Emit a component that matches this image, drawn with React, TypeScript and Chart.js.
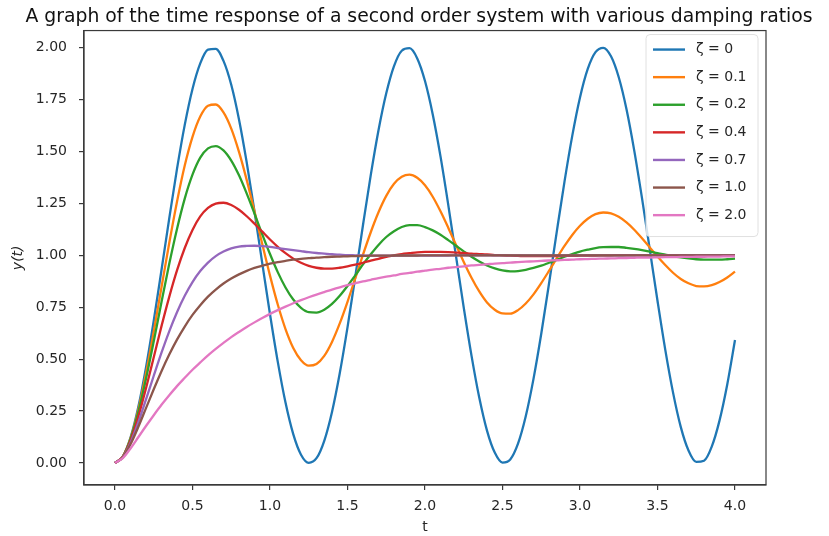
import React, { useEffect, useRef } from "react";
import { Chart, registerables } from "chart.js";

Chart.register(...registerables);

const tValues = [
  0, 0.05, 0.1, 0.15, 0.2, 0.25, 0.3, 0.35, 0.4, 0.45,
  0.5, 0.55, 0.6, 0.65, 0.7, 0.75, 0.8, 0.85, 0.9, 0.95,
  1.0, 1.05, 1.1, 1.15, 1.2, 1.25, 1.3, 1.35, 1.4, 1.45,
  1.5, 1.55, 1.6, 1.65, 1.7, 1.75, 1.8, 1.85, 1.9, 1.95,
  2.0, 2.05, 2.1, 2.15, 2.2, 2.25, 2.3, 2.35, 2.4, 2.45,
  2.5, 2.55, 2.6, 2.65, 2.7, 2.75, 2.8, 2.85, 2.9, 2.95,
  3.0, 3.05, 3.1, 3.15, 3.2, 3.25, 3.3, 3.35, 3.4, 3.45,
  3.5, 3.55, 3.6, 3.65, 3.7, 3.75, 3.8, 3.85, 3.9, 3.95,
  4.0,
];

const yZeta0 = [
  0, 0.031, 0.122, 0.268, 0.460, 0.685, 0.929, 1.178, 1.416, 1.628,
  1.801, 1.924, 1.990, 1.994, 1.936, 1.821, 1.654, 1.446, 1.211, 0.962,
  0.716, 0.488, 0.291, 0.139, 0.040, 0.001, 0.023, 0.107, 0.246, 0.432,
  0.653, 0.896, 1.146, 1.386, 1.602, 1.780, 1.911, 1.985, 1.997, 1.948,
  1.839, 1.678, 1.476, 1.243, 0.996, 0.748, 0.517, 0.315, 0.156, 0.050,
  0.002, 0.017, 0.093, 0.225, 0.405, 0.622, 0.863, 1.113, 1.355, 1.575,
  1.760, 1.897, 1.978, 1.999, 1.958, 1.857, 1.703, 1.504, 1.275, 1.029,
  0.781, 0.546, 0.340, 0.174, 0.060, 0.005, 0.011, 0.079, 0.204, 0.378,
  0.592,
];

const yZeta01 = [
  0, 0.031, 0.118, 0.255, 0.431, 0.633, 0.846, 1.059, 1.258, 1.432,
  1.570, 1.668, 1.720, 1.726, 1.688, 1.610, 1.498, 1.362, 1.211, 1.054,
  0.902, 0.763, 0.645, 0.554, 0.495, 0.469, 0.477, 0.516, 0.583, 0.672,
  0.776, 0.889, 1.003, 1.111, 1.207, 1.286, 1.344, 1.378, 1.388, 1.373,
  1.337, 1.282, 1.212, 1.133, 1.050, 0.968, 0.892, 0.826, 0.773, 0.738,
  0.720, 0.719, 0.736, 0.768, 0.812, 0.866, 0.925, 0.986, 1.045, 1.098,
  1.142, 1.176, 1.198, 1.206, 1.202, 1.185, 1.158, 1.123, 1.082, 1.038,
  0.994, 0.953, 0.916, 0.886, 0.865, 0.852, 0.850, 0.856, 0.871, 0.893,
  0.921,
];

const yZeta02 = [
  0, 0.030, 0.115, 0.244, 0.405, 0.586, 0.775, 0.959, 1.127, 1.273,
  1.388, 1.470, 1.515, 1.526, 1.505, 1.456, 1.385, 1.297, 1.201, 1.101,
  1.006, 0.919, 0.845, 0.787, 0.747, 0.726, 0.724, 0.738, 0.766, 0.805,
  0.852, 0.903, 0.956, 1.005, 1.050, 1.088, 1.116, 1.136, 1.145, 1.145,
  1.136, 1.120, 1.099, 1.073, 1.046, 1.019, 0.993, 0.970, 0.951, 0.937,
  0.927, 0.923, 0.924, 0.930, 0.939, 0.950, 0.964, 0.978, 0.993, 1.006,
  1.018, 1.027, 1.035, 1.039, 1.040, 1.040, 1.036, 1.031, 1.025, 1.018,
  1.010, 1.003, 0.996, 0.990, 0.985, 0.981, 0.979, 0.979, 0.979, 0.981,
  0.984,
];

const yZeta04 = [
  0, 0.029, 0.108, 0.222, 0.360, 0.509, 0.659, 0.800, 0.927, 1.035,
  1.122, 1.187, 1.228, 1.249, 1.253, 1.242, 1.219, 1.188, 1.152, 1.114,
  1.076, 1.041, 1.010, 0.984, 0.964, 0.949, 0.940, 0.936, 0.936, 0.940,
  0.947, 0.955, 0.964, 0.974, 0.983, 0.992, 0.999, 1.006, 1.010, 1.014,
  1.016, 1.016, 1.016, 1.015, 1.013, 1.011, 1.008, 1.006, 1.004, 1.001,
  1.000, 0.998, 0.997, 0.996, 0.996, 0.996, 0.996, 0.996, 0.997, 0.997,
  0.998, 0.999, 0.999, 1.000, 1.000, 1.001, 1.001, 1.001, 1.001, 1.001,
  1.001, 1.001, 1.001, 1.001, 1.000, 1.000, 1.000, 1.000, 1.000, 1.000,
  1.000,
];

const yZeta07 = [
  0, 0.028, 0.098, 0.195, 0.306, 0.420, 0.531, 0.634, 0.726, 0.805,
  0.871, 0.924, 0.965, 0.996, 1.018, 1.033, 1.042, 1.045, 1.046, 1.044,
  1.040, 1.035, 1.030, 1.025, 1.020, 1.015, 1.011, 1.008, 1.005, 1.003,
  1.001, 1.000, 0.999, 0.998, 0.998, 0.998, 0.998, 0.998, 0.998, 0.998,
  0.999, 0.999, 0.999, 0.999, 1.000, 1.000, 1.000, 1.000, 1.000, 1.000,
  1.000, 1.000, 1.000, 1.000, 1.000, 1.000, 1.000, 1.000, 1.000, 1.000,
  1.000, 1.000, 1.000, 1.000, 1.000, 1.000, 1.000, 1.000, 1.000, 1.000,
  1.000, 1.000, 1.000, 1.000, 1.000, 1.000, 1.000, 1.000, 1.000, 1.000,
  1.000,
];

const yZeta10 = [
  0, 0.026, 0.090, 0.173, 0.264, 0.355, 0.442, 0.522, 0.594, 0.657,
  0.713, 0.760, 0.801, 0.835, 0.864, 0.888, 0.908, 0.925, 0.939, 0.950,
  0.960, 0.967, 0.973, 0.979, 0.983, 0.986, 0.989, 0.991, 0.993, 0.994,
  0.995, 0.996, 0.997, 0.998, 0.998, 0.998, 0.999, 0.999, 0.999, 0.999,
  1.000, 1.000, 1.000, 1.000, 1.000, 1.000, 1.000, 1.000, 1.000, 1.000,
  1.000, 1.000, 1.000, 1.000, 1.000, 1.000, 1.000, 1.000, 1.000, 1.000,
  1.000, 1.000, 1.000, 1.000, 1.000, 1.000, 1.000, 1.000, 1.000, 1.000,
  1.000, 1.000, 1.000, 1.000, 1.000, 1.000, 1.000, 1.000, 1.000, 1.000,
  1.000,
];

const yZeta20 = [
  0, 0.023, 0.070, 0.124, 0.178, 0.230, 0.280, 0.326, 0.370, 0.410,
  0.449, 0.484, 0.518, 0.549, 0.578, 0.606, 0.631, 0.655, 0.677, 0.698,
  0.718, 0.736, 0.753, 0.769, 0.784, 0.798, 0.811, 0.823, 0.835, 0.846,
  0.856, 0.865, 0.874, 0.882, 0.890, 0.897, 0.903, 0.910, 0.915, 0.921,
  0.926, 0.931, 0.935, 0.940, 0.943, 0.947, 0.951, 0.954, 0.957, 0.960,
  0.962, 0.965, 0.967, 0.969, 0.971, 0.973, 0.975, 0.976, 0.978, 0.979,
  0.981, 0.982, 0.983, 0.984, 0.985, 0.986, 0.987, 0.988, 0.989, 0.989,
  0.990, 0.991, 0.991, 0.992, 0.992, 0.993, 0.993, 0.994, 0.994, 0.995,
  0.995,
];

const seriesLabels = ["ζ = 0", "ζ = 0.1", "ζ = 0.2", "ζ = 0.4", "ζ = 0.7", "ζ = 1.0", "ζ = 2.0"];
const seriesValues = [yZeta0, yZeta01, yZeta02, yZeta04, yZeta07, yZeta10, yZeta20];
const seriesColors = ["#1f77b4", "#ff7f0e", "#2ca02c", "#d62728", "#9467bd", "#8c564b", "#e377c2"];

const xTicks = [0, 0.5, 1.0, 1.5, 2.0, 2.5, 3.0, 3.5, 4.0];
const yTicks = [0, 0.25, 0.5, 0.75, 1.0, 1.25, 1.5, 1.75, 2.0];

const titleText = "A graph of the time response of a second order system with various damping ratios";
const FONT = "'DejaVu Sans', 'Liberation Sans', sans-serif";
const INK = "#262626";

const framePlugin = {
  id: "frame",
  afterDatasetsDraw(chart: any) {
    const { ctx, chartArea } = chart;
    ctx.save();
    ctx.strokeStyle = "#3a3a3a";
    ctx.lineWidth = 1.2;
    ctx.strokeRect(chartArea.left, chartArea.top, chartArea.right - chartArea.left, chartArea.bottom - chartArea.top);
    ctx.restore();
  },
};

const legendPlugin = {
  id: "boxLegend",
  afterDraw(chart: any) {
    const { ctx, chartArea } = chart;
    const boxRight = chartArea.right - 8;
    const boxTop = chartArea.top + 4;
    const boxW = 112;
    const rowH = 27.6;
    const boxH = 202;
    const boxLeft = boxRight - boxW;
    ctx.save();
    ctx.fillStyle = "rgba(255,255,255,0.8)";
    ctx.strokeStyle = "#e0e0e0";
    ctx.lineWidth = 1;
    const r = 4;
    ctx.beginPath();
    ctx.moveTo(boxLeft + r, boxTop);
    ctx.lineTo(boxRight - r, boxTop);
    ctx.arcTo(boxRight, boxTop, boxRight, boxTop + r, r);
    ctx.lineTo(boxRight, boxTop + boxH - r);
    ctx.arcTo(boxRight, boxTop + boxH, boxRight - r, boxTop + boxH, r);
    ctx.lineTo(boxLeft + r, boxTop + boxH);
    ctx.arcTo(boxLeft, boxTop + boxH, boxLeft, boxTop + boxH - r, r);
    ctx.lineTo(boxLeft, boxTop + r);
    ctx.arcTo(boxLeft, boxTop, boxLeft + r, boxTop, r);
    ctx.closePath();
    ctx.fill();
    ctx.stroke();
    ctx.font = "14px " + FONT;
    ctx.textBaseline = "middle";
    ctx.textAlign = "left";
    seriesLabels.forEach((label, i) => {
      const y = boxTop + 15 + i * rowH;
      ctx.strokeStyle = seriesColors[i];
      ctx.lineWidth = 2.4;
      ctx.beginPath();
      ctx.moveTo(boxLeft + 7, y);
      ctx.lineTo(boxLeft + 39, y);
      ctx.stroke();
      ctx.fillStyle = INK;
      ctx.fillText(label, boxLeft + 50, y);
    });
    ctx.restore();
  },
};

export default function App() {
  const canvasRef = useRef<HTMLCanvasElement | null>(null);

  useEffect(() => {
    document.body.style.margin = "0";
    const canvas = canvasRef.current;
    if (!canvas) return;
    const datasets = seriesValues.map((vals, i) => ({
      label: seriesLabels[i],
      data: tValues.map((t, j) => ({ x: t, y: vals[j] })),
      borderColor: seriesColors[i],
      backgroundColor: seriesColors[i],
      borderWidth: 2.3,
      pointRadius: 0,
      cubicInterpolationMode: "monotone",
      fill: false,
      order: seriesLabels.length - i,
    }));
    const chart = new Chart(canvas, {
      type: "line",
      data: { datasets },
      plugins: [framePlugin, legendPlugin],
      options: {
        animation: false,
        responsive: false,
        devicePixelRatio: 1,
        layout: { padding: { left: 9, right: 0, top: 0, bottom: 0 } },
        plugins: {
          legend: { display: false },
          tooltip: { enabled: false },
          title: {
            display: true,
            text: titleText,
            color: "#111",
            font: { family: FONT, size: 18.8, weight: "normal" },
            padding: { top: 6, bottom: 2 },
          },
        },
        scales: {
          x: {
            type: "linear",
            min: -0.2,
            max: 4.2,
            afterBuildTicks: (scale: any) => {
              scale.ticks = xTicks.map((v) => ({ value: v }));
            },
            afterFit: (scale: any) => {
              scale.height = 51;
            },
            grid: { display: true, drawOnChartArea: false, drawTicks: true, tickLength: 5, color: "#3a3a3a", lineWidth: 1.2 },
            border: { display: true, color: "#3a3a3a", width: 1.2 },
            ticks: {
              color: INK,
              font: { family: FONT, size: 14 },
              padding: 8,
              maxRotation: 0,
              autoSkip: false,
              callback: (v: any) => Number(v).toFixed(1),
            },
            title: {
              display: true,
              text: "t",
              color: INK,
              font: { family: FONT, size: 14 },
              padding: { top: 0, bottom: 0 },
            },
          },
          y: {
            type: "linear",
            min: -0.106,
            max: 2.082,
            afterBuildTicks: (scale: any) => {
              scale.ticks = yTicks.map((v) => ({ value: v }));
            },
            afterFit: (scale: any) => {
              scale.width = 75;
            },
            grid: { display: true, drawOnChartArea: false, drawTicks: true, tickLength: 5, color: "#3a3a3a", lineWidth: 1.2 },
            border: { display: true, color: "#3a3a3a", width: 1.2 },
            ticks: {
              color: INK,
              font: { family: FONT, size: 14 },
              padding: 12,
              autoSkip: false,
              callback: (v: any) => Number(v).toFixed(2),
            },
            title: {
              display: true,
              text: "y(t)",
              color: INK,
              font: { family: FONT, size: 14, style: "italic" },
              padding: { top: 1, bottom: 0 },
            },
          },
          yRight: {
            type: "linear",
            position: "right",
            display: true,
            afterFit: (scale: any) => {
              scale.width = 63;
            },
            grid: { display: false, drawTicks: false },
            border: { display: false },
            ticks: { display: false },
          },
        },
      },
    });
    return () => chart.destroy();
  }, []);

  return (
    <div style={{ width: 829, height: 536, background: "#fff" }}>
      <canvas ref={canvasRef} width={829} height={536} />
    </div>
  );
}
